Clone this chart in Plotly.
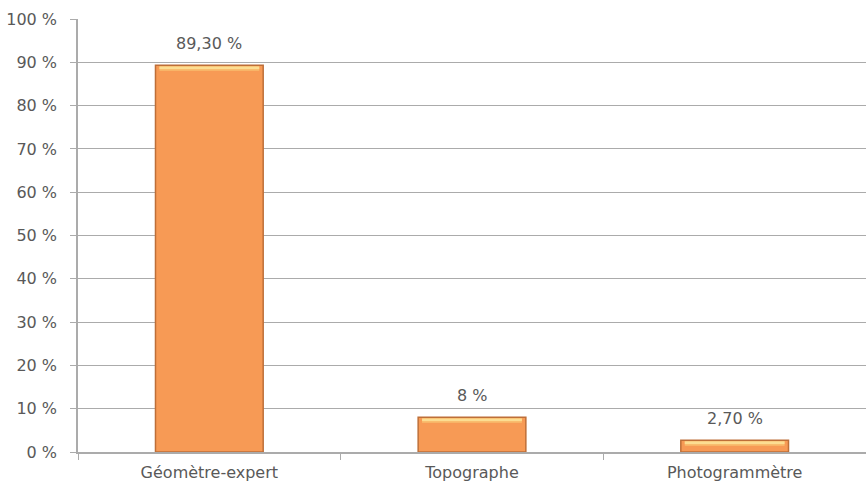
import plotly.graph_objects as go

# Data
categories = ["Géomètre-expert", "Topographe", "Photogrammètre"]
values = [89.3, 8.0, 2.7]
value_labels = ["89,30 %", "8 %", "2,70 %"]
tick_values = [0, 10, 20, 30, 40, 50, 60, 70, 80, 90, 100]
tick_labels = [f"{v} %" for v in tick_values]

FONT = "DejaVu Sans"
TEXT_COLOR = "#595959"
GRID_COLOR = "#ABABAB"
BAR_WIDTH = 0.41

fig = go.Figure()

# main bar body with dark bevel edges
fig.add_trace(go.Bar(
    x=categories, y=values, width=BAR_WIDTH,
    marker=dict(color="#F79A55", line=dict(color="#BE6F38", width=1.5)),
    hoverinfo="skip",
))
# top bevel: a warm band with a paler core
for depth, height, color in [(0.15, 1.1, "#F9BD6E"), (0.3, 0.55, "#FCDD92")]:
    fig.add_trace(go.Bar(
        x=categories, y=[height] * len(values),
        base=[v - height - depth for v in values],
        width=BAR_WIDTH - 0.03,
        marker=dict(color=color, line=dict(width=0)),
        hoverinfo="skip",
    ))

# value labels above each bar
for cat, v, lab in zip(categories, values, value_labels):
    fig.add_annotation(
        x=cat, y=v, text=lab, showarrow=False,
        yanchor="bottom", yshift=10,
        font=dict(family=FONT, size=16, color=TEXT_COLOR),
    )

fig.update_layout(
    width=866, height=495,
    margin=dict(l=78, r=0, t=19, b=43),
    paper_bgcolor="white", plot_bgcolor="white",
    barmode="overlay", showlegend=False,
    font=dict(family=FONT, size=16, color=TEXT_COLOR),
)
fig.update_xaxes(
    showline=True, linecolor=GRID_COLOR, linewidth=1.5,
    ticks="outside", tickson="boundaries", ticklen=6, tickcolor=GRID_COLOR,
    showgrid=False, tickfont=dict(family=FONT, size=16, color=TEXT_COLOR),
    ticklabelstandoff=5,
)
fig.update_yaxes(
    range=[0, 100], tickvals=tick_values, ticktext=tick_labels,
    showline=True, linecolor=GRID_COLOR, linewidth=1.5,
    ticks="outside", ticklen=6, tickcolor=GRID_COLOR,
    showgrid=True, gridcolor=GRID_COLOR, gridwidth=1,
    zeroline=False, tickfont=dict(family=FONT, size=16, color=TEXT_COLOR),
    ticklabelstandoff=10,
)

fig.write_html("out.html")
